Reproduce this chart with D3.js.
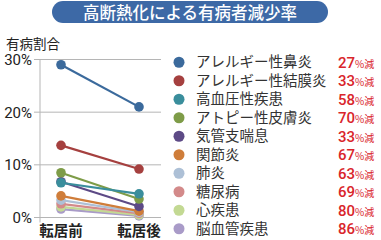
<!DOCTYPE html>
<html>
<head>
<meta charset="utf-8">
<script src="https://cdn.jsdelivr.net/npm/d3@7"></script>
<style>
  body { margin: 0; background: #fff; }
  svg { display: block; font-family: "Noto Sans CJK JP", "Noto Sans", sans-serif; }
</style>
</head>
<body>
<div id="chart"></div>
<script>
const FRAME_WIDTH = 381;
const FRAME_HEIGHT = 240;

// data
const diseases = ["アレルギー性鼻炎", "アレルギー性結膜炎", "高血圧性疾患", "アトピー性皮膚炎", "気管支喘息",
                  "関節炎", "肺炎", "糖尿病", "心疾患", "脳血管疾患"];
const before = [29.0, 13.7, 6.6, 8.5, 6.8, 4.1, 3.3, 2.6, 2.0, 1.6];
const after = [21.0, 9.2, 4.5, 3.5, 2.1, 1.2, 1.0, 0.8, 0.5, 0.3];
const reduction = ["27", "33", "58", "70", "33", "67", "63", "69", "80", "86"];
const colors = ["#3b6a9c", "#a5403f", "#3a8e9c", "#7e9c48", "#5d4a86", "#cf7d3a",
                "#adc0d6", "#d38a8a", "#c3d993", "#a99bc8"];
const periods = ["転居前", "転居後"];
const yTicks = [0, 10, 20, 30];

const FRAME = d3.select("#chart")
                .append("svg")
                  .attr("width", FRAME_WIDTH)
                  .attr("height", FRAME_HEIGHT);

// title pill
FRAME.append("rect")
      .attr("x", 52).attr("y", 1)
      .attr("width", 276).attr("height", 22)
      .attr("rx", 11)
      .attr("fill", "#3d69a6");
FRAME.append("text")
      .attr("x", 190).attr("y", 18.5)
      .attr("text-anchor", "middle")
      .attr("fill", "#fff")
      .attr("font-size", "16.5px")
      .attr("font-weight", "500")
      .text("高断熱化による有病者減少率");

FRAME.append("text")
      .attr("x", 6).attr("y", 49)
      .attr("font-size", "13.5px")
      .attr("fill", "#222")
      .text("有病割合");

const X_SCALE = d3.scalePoint()
                  .domain(periods)
                  .range([61, 139]);
const Y_SCALE = d3.scaleLinear()
                  .domain([0, 30])
                  .range([217.5, 59.5]);

// gridlines
FRAME.append("g")
      .selectAll("line")
      .data(yTicks)
      .enter()
      .append("line")
        .attr("x1", 34).attr("x2", 161)
        .attr("y1", (d) => Y_SCALE(d))
        .attr("y2", (d) => Y_SCALE(d))
        .attr("stroke", "#b5b5b5")
        .attr("stroke-width", 1);

FRAME.append("line")
      .attr("x1", 40).attr("x2", 40)
      .attr("y1", Y_SCALE(30)).attr("y2", Y_SCALE(0) + 5)
      .attr("stroke", "#b5b5b5");

// y tick labels
FRAME.append("g")
      .selectAll("text")
      .data(yTicks)
      .enter()
      .append("text")
        .attr("x", 32)
        .attr("y", (d) => Y_SCALE(d) + 5.5)
        .attr("text-anchor", "end")
        .attr("font-size", "15px")
        .attr("font-family", "Roboto, sans-serif")
        .attr("fill", "#222")
        .text((d) => d + "%");

// x labels
FRAME.append("g")
      .selectAll("text")
      .data(periods)
      .enter()
      .append("text")
        .attr("x", (d) => X_SCALE(d))
        .attr("y", 236)
        .attr("text-anchor", "middle")
        .attr("font-size", "14.5px")
        .attr("font-weight", "bold")
        .attr("fill", "#222")
        .text((d) => d);

// lines & points (draw small ones first)
const order = d3.range(diseases.length).reverse();
const g = FRAME.append("g");
order.forEach((i) => {
  g.append("line")
    .attr("x1", X_SCALE(periods[0])).attr("y1", Y_SCALE(before[i]))
    .attr("x2", X_SCALE(periods[1])).attr("y2", Y_SCALE(after[i]))
    .attr("stroke", colors[i])
    .attr("stroke-width", 2.2);
  g.append("circle")
    .attr("cx", X_SCALE(periods[0])).attr("cy", Y_SCALE(before[i]))
    .attr("r", 4.8).attr("fill", colors[i]);
  g.append("circle")
    .attr("cx", X_SCALE(periods[1])).attr("cy", Y_SCALE(after[i]))
    .attr("r", 4.8).attr("fill", colors[i]);
});

// legend
const L_SCALE = d3.scaleBand()
                  .domain(diseases)
                  .range([53, 238]);
const legend = FRAME.append("g")
                    .selectAll("g")
                    .data(diseases)
                    .enter()
                    .append("g")
                      .attr("transform", (d) => "translate(0," + (L_SCALE(d) + L_SCALE.bandwidth() / 2) + ")");
legend.append("circle")
      .attr("cx", 179).attr("cy", 0)
      .attr("r", 5.5)
      .attr("fill", (d, i) => colors[i]);
legend.append("text")
      .attr("x", 196).attr("y", 5)
      .attr("font-size", "14.5px")
      .attr("fill", "#333")
      .text((d) => d);
const pct = legend.append("text")
      .attr("x", 338).attr("y", 5.5)
      .attr("fill", "#d9252b")
      .attr("font-family", "Roboto, sans-serif");
pct.append("tspan")
   .attr("font-size", "15px")
   .attr("font-weight", "500")
   .text((d, i) => reduction[i]);
pct.append("tspan")
   .attr("font-size", "10px")
   .attr("font-family", "'Noto Sans CJK JP', sans-serif")
   .text("%減");
</script>
</body>
</html>
